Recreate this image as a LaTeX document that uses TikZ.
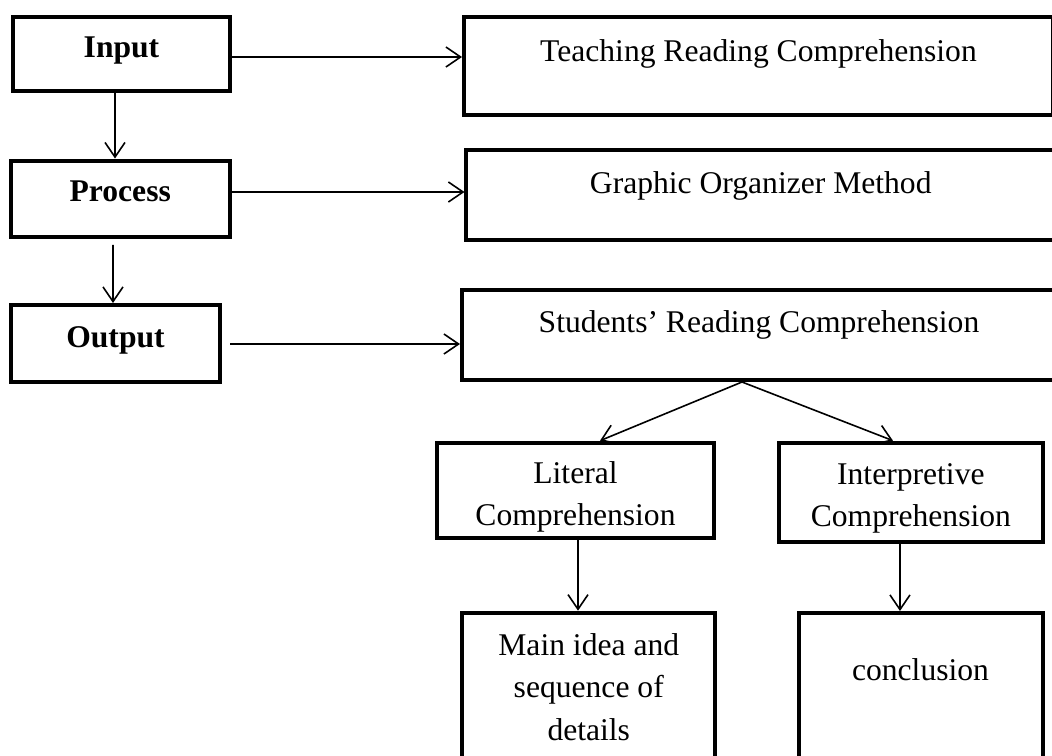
\documentclass[tikz,border=0pt]{standalone}
\usepackage{fontspec}
\setmainfont{Liberation Serif}
\usetikzlibrary{
  calc,
  positioning,
  arrows.meta
}

\begin{document}
\begin{tikzpicture}[x = 0.75pt, y = -0.75pt,
    box/.style = {draw, line width = 3pt, inner sep = 0pt, align = center,
      font = \fontsize{23.7}{31.9}\selectfont},
    head/.style = {box, font = \fontsize{23.7}{31.9}\selectfont\bfseries},
    flow/.style = {-{Straight Barb[length = 11pt, width = 15pt]}, line width = 1.2pt}]
    \useasboundingbox (0,0) rectangle (1052,756);
    \clip (0,0) rectangle (1052,756);

    \node[head, minimum width = 162.75pt, text height = 30.75pt, text depth = 24.75pt] (input) at (121.5,54) {Input};
    \node[head, minimum width = 164.6pt, text height = 31.1pt, text depth = 26.25pt] (process) at (120.25,198.75) {Process};
    \node[head, minimum width = 156.75pt, text height = 31.5pt, text depth = 26.25pt] (output) at (115.5,343.5) {Output};

    \node[box, minimum width = 441.75pt, text height = 34.1pt, text depth = 39.75pt] (teach) at (758.5,65.75) {Teaching Reading Comprehension};
    \node[box, minimum width = 441.4pt, text height = 32.25pt, text depth = 35.25pt] (graphic) at (760.75,195) {Graphic Organizer Method};
    \node[box, minimum width = 445.5pt, text height = 31.5pt, text depth = 36pt] (students) at (759,335) {Students’ Reading Comprehension};

    \node[box, minimum width = 208.2pt, minimum height = 71.5pt] (literal) at (575.5,490.35) {\rule{0pt}{26pt}Literal\\Comprehension};
    \node[box, minimum width = 197.8pt, minimum height = 74.5pt] (interp) at (910.85,492.35) {\rule{0pt}{25pt}Interpretive\\Comprehension};
    \node[box, minimum width = 190.1pt, minimum height = 118pt] (mainidea) at (588.75,691.35) {Main idea and\\sequence of\\details\rule[-7pt]{0pt}{7pt}};
    \node[box, minimum width = 183pt, text height = 50.25pt, text depth = 67.5pt] (concl) at (920.5,691.5) {conclusion};

    \draw[flow] ([xshift = -4.875pt]input.south) -- ([xshift = -3.94pt]process.north);
    \draw[flow] ([xshift = -5.44pt, yshift = -4.5pt]process.south) -- ([xshift = -1.875pt]output.north);

    \draw[flow] ([yshift = -2.25pt]input.east) -- ([yshift = 6.56pt]teach.west);
    \draw[flow] ([yshift = 5.06pt]process.east) -- ([yshift = 2.25pt]graphic.west);
    \draw[flow] ([xshift = 6pt, yshift = -0.375pt]output.east) -- ([yshift = -6.75pt]students.west);

    \draw[flow] ([xshift = -12.75pt]students.south) -- ([xshift = 18.4pt]literal.north);
    \draw[flow] ([xshift = -12.75pt]students.south) -- ([xshift = -13.4pt]interp.north);

    \draw[flow] ([xshift = 1.875pt]literal.south) -- ([xshift = -8.06pt]mainidea.north);
    \draw[flow] ([xshift = -8.14pt]interp.south) -- ([xshift = -15.4pt]concl.north);
\end{tikzpicture}
\end{document}
